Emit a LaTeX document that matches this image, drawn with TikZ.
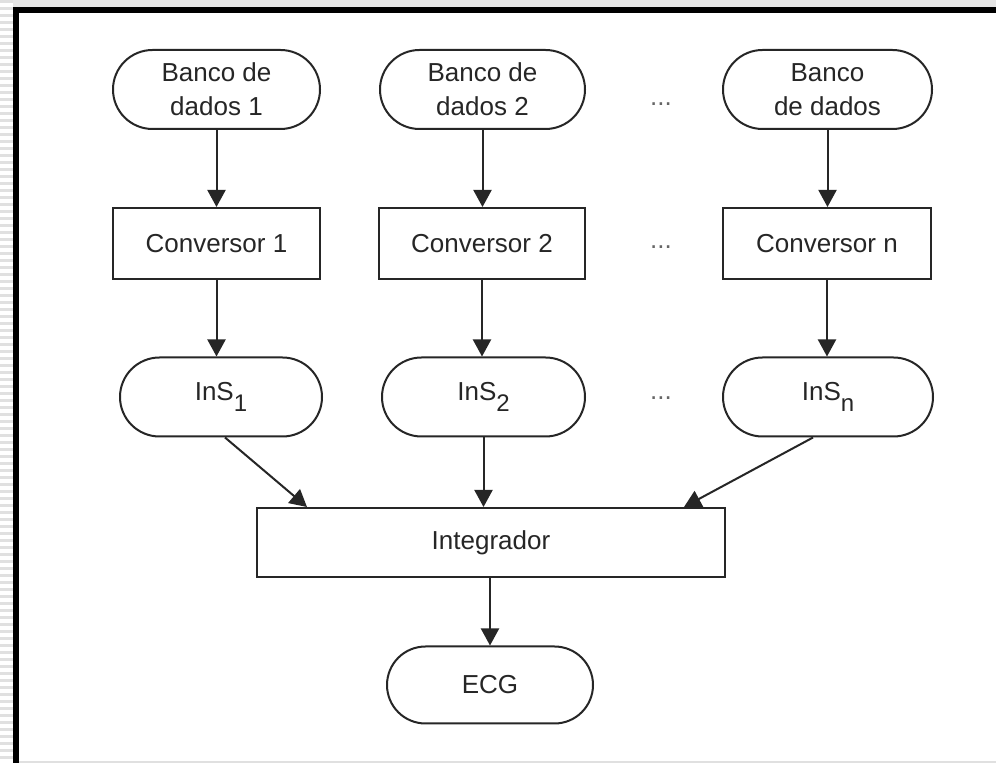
\documentclass[tikz,border=0pt]{standalone}
\usepackage{fontspec}
\setmainfont{Liberation Sans}
\usetikzlibrary{shapes.misc,arrows.meta}
\newcommand\lowidx[1]{\raisebox{-0.42em}{\fontsize{12}{12}\selectfont #1}}
\begin{document}
\begin{tikzpicture}[x=0.5pt,y=-0.5pt,
  font=\fontsize{13}{17}\selectfont,
  every node/.style={text=black!85},
  pill/.style={draw=black!85,line width=1pt,rounded rectangle,minimum height=39.5pt,
               inner sep=0pt,align=center},
  blk/.style={draw=black!85,line width=1pt,rectangle,minimum height=35.5pt,
              inner sep=0pt,align=center},
  flow/.style={draw=black!85,line width=1pt,-{Triangle[length=8.5pt,width=9pt]}},
  dots/.style={anchor=base,text=black!60}]

% page frame
\useasboundingbox (0,0) rectangle (996,763);
\fill[white] (0,0) rectangle (996,763);
\foreach \yy in {0,7,...,763} \fill[black!12] (0,\yy) rectangle (13,\yy+3);
\fill[black!10] (13,0) rectangle (996,7);
\fill[black] (13,7) rectangle (19,763);
\fill[black] (13,7) rectangle (996,13);
\fill[black!12] (19,761) rectangle (996,763);

% data banks
\node[pill,minimum width=103.5pt] (b1) at (216.5,89.5) {Banco de\\dados 1};
\node[pill,minimum width=102.5pt] (b2) at (482.5,89.5) {Banco de\\dados 2};
\node[pill,minimum width=104.5pt] (bn) at (827.5,89.5) {Banco\\de dados};

% converters
\node[blk,minimum width=103.5pt] (c1) at (216.5,243.5) {Conversor 1};
\node[blk,minimum width=103pt]   (c2) at (482,243.5)   {Conversor 2};
\node[blk,minimum width=104pt]   (cn) at (827,243.5)   {Conversor n};

% instances
\node[pill,minimum width=101pt]  (i1) at (221,397)   {InS\lowidx{1}};
\node[pill,minimum width=101.5pt](i2) at (483.5,397) {InS\lowidx{2}};
\node[pill,minimum width=105pt]  (in) at (828,397)   {InS\lowidx{n}};

% integrator and result
\node[blk,minimum width=234pt,minimum height=34.5pt] (ig) at (491,542.5) {Integrador};
\node[pill,minimum width=103pt,minimum height=38.5pt] (ecg) at (490,685) {ECG};

% ellipses between columns
\node[dots] (d1) at (661,106) {...};
\node[dots] (d2) at (661,249) {...};
\node[dots] (d3) at (661,400) {...};

% connectors
\draw[flow] (b1.south) -- (b1.south |- c1.north);
\draw[flow] (b2.south) -- (b2.south |- c2.north);
\draw[flow] (bn.south) -- (bn.south |- cn.north);
\draw[flow] (c1.south) -- (c1.south |- i1.north);
\draw[flow] (c2.south) -- (c2.south |- i2.north);
\draw[flow] (cn.south) -- (cn.south |- in.north);
\draw[flow] ([xshift=2pt]i1.south) -- ([xshift=25.5pt]ig.north west);
\draw[flow] (i2.south) -- (i2.south |- ig.north);
\draw[flow] ([xshift=-7.5pt]in.south) -- ([xshift=-21pt]ig.north east);
\draw[flow] (ig.south -| ecg.north) -- (ecg.north);
\end{tikzpicture}
\end{document}
